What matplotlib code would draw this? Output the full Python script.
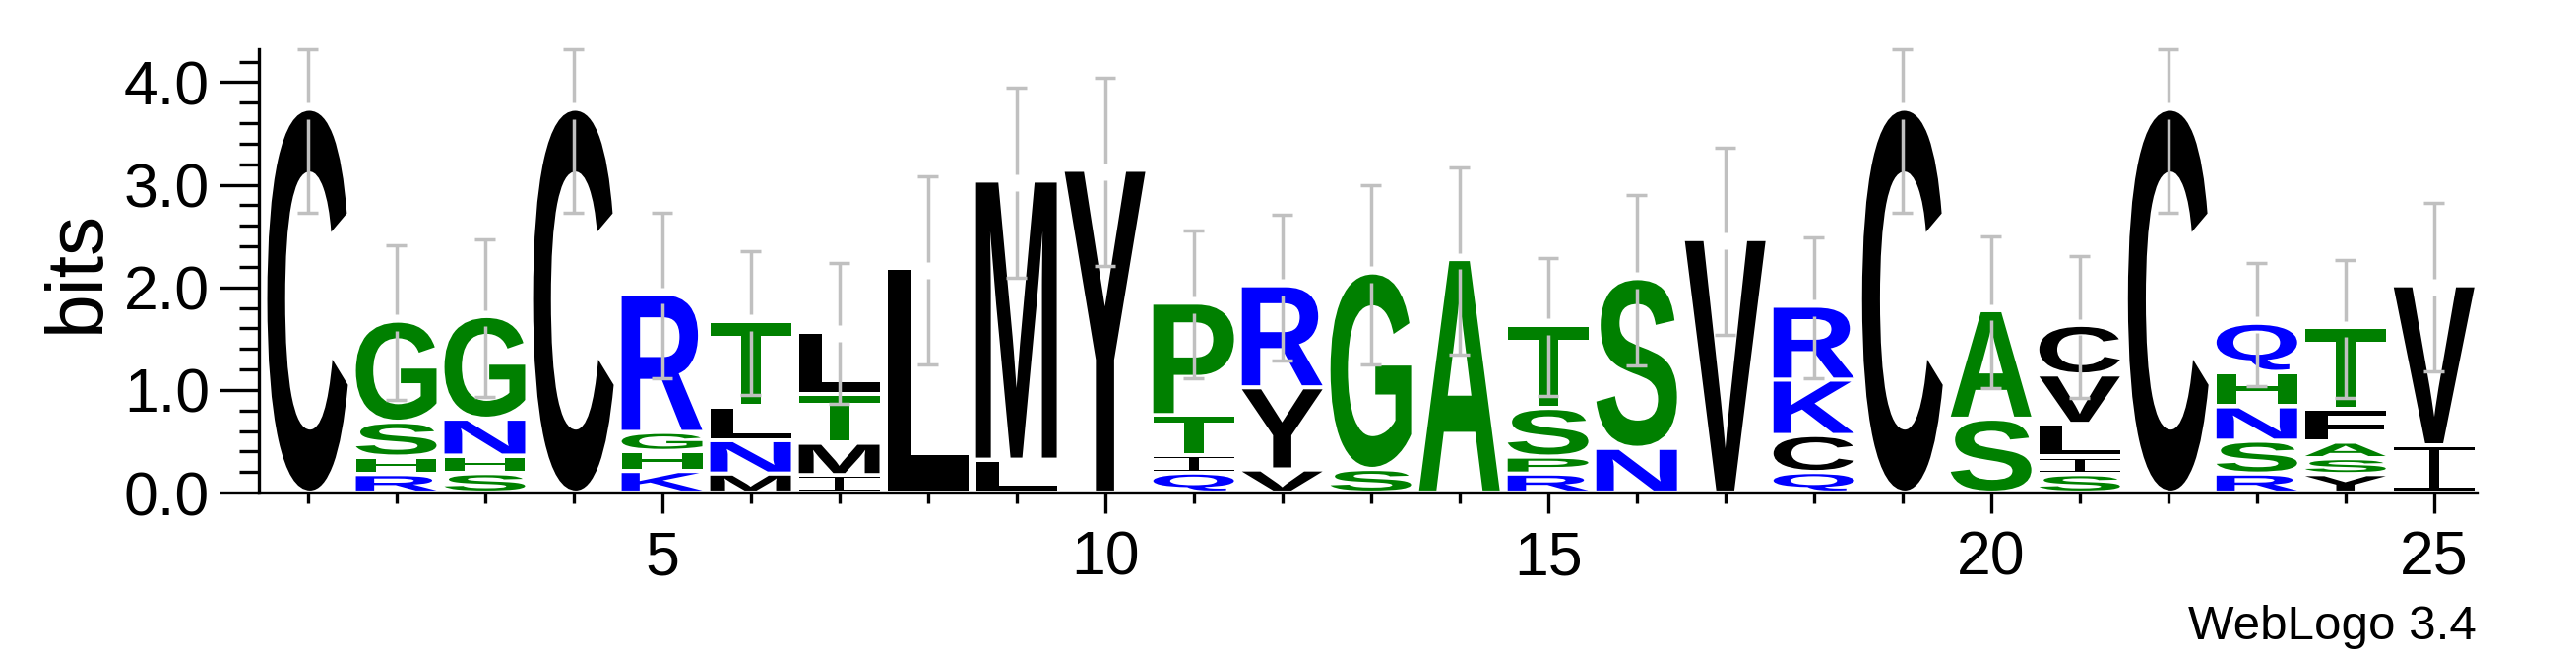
import matplotlib

matplotlib.use("Agg")

import matplotlib.pyplot as plt
import numpy as np
from matplotlib.font_manager import FontProperties
from matplotlib.patches import PathPatch
from matplotlib.path import Path
from matplotlib.textpath import TextPath

# sequence logo data: letters from bottom to top, heights in bits
positions = list(range(1, 26))

stack_letters = [
    "C", "RHSG", "SHNG", "C", "KHGR",
    "MNLT", "IMTL", "L", "LM", "Y",
    "QITP", "VYR", "SG", "A", "RPST",
    "NS", "V", "QCKR", "C", "SA",
    "SILVC", "C", "RSNHQ", "YSAFT", "IV",
]

stack_heights = [
    [3.72],
    [0.18, 0.17, 0.34, 0.965],
    [0.19, 0.17, 0.36, 0.98],
    [3.72],
    [0.21, 0.195, 0.185, 1.33],
    [0.185, 0.325, 0.33, 0.815],
    [0.17, 0.315, 0.475, 0.59],
    [2.165],
    [0.32, 2.70],
    [3.125],
    [0.195, 0.17, 0.39, 1.075],
    [0.225, 0.80, 0.975],
    [0.23, 1.895],
    [2.255],
    [0.185, 0.165, 0.475, 0.79],
    [0.435, 1.635],
    [2.45],
    [0.20, 0.36, 0.54, 0.70],
    [3.72],
    [0.72, 1.037],
    [0.18, 0.17, 0.32, 0.48, 0.464],
    [3.72],
    [0.185, 0.32, 0.335, 0.335, 0.459],
    [0.18, 0.155, 0.16, 0.32, 0.778],
    [0.46, 1.54],
]

error_sizes = [
    0.99, 0.75, 0.77, 0.99, 0.81,
    0.70, 0.69, 0.92, 0.93, 0.92,
    0.72, 0.71, 0.875, 0.915, 0.67,
    0.83, 0.91, 0.69, 0.99, 0.74,
    0.69, 0.99, 0.60, 0.67, 0.82,
]

labelled_positions = [5, 10, 15, 20, 25]
y_tick_values = [0.0, 1.0, 2.0, 3.0, 4.0]
y_max = 4.32

letter_colors = {}
for ch in "CLMYVIF":
    letter_colors[ch] = "black"
for ch in "GSTHAP":
    letter_colors[ch] = "#008000"
for ch in "RNKQ":
    letter_colors[ch] = "#0000ff"

LETTER_FONT = FontProperties(family="Liberation Sans", weight="bold")
LABEL_FONT = "Liberation Sans"
LETTER_WIDTH = 0.91
LETTER_GAP = 0.02
ERR_COLOR = "#c0c0c0"


def serif_i_path():
    bar = 0.07
    stem = 0.12
    rects = [
        (0.0, 0.0, 1.0, bar),
        (0.0, 1.0 - bar, 1.0, 1.0),
        (0.5 - stem / 2, bar, 0.5 + stem / 2, 1.0 - bar),
    ]
    verts = []
    codes = []
    for x0, y0, x1, y1 in rects:
        verts += [(x0, y0), (x1, y0), (x1, y1), (x0, y1), (x0, y0)]
        codes += [Path.MOVETO, Path.LINETO, Path.LINETO, Path.LINETO, Path.CLOSEPOLY]
    return np.array(verts), codes


def unit_glyph(letter):
    if letter == "I":
        return serif_i_path()
    tp = TextPath((0, 0), letter, size=1, prop=LETTER_FONT)
    ext = tp.get_extents()
    verts = tp.vertices.copy()
    verts[:, 0] = (verts[:, 0] - ext.x0) / ext.width
    verts[:, 1] = (verts[:, 1] - ext.y0) / ext.height
    return verts, tp.codes


def draw_letter(ax, letter, xc, y0, y1):
    verts, codes = unit_glyph(letter)
    out = verts.copy()
    out[:, 0] = xc - LETTER_WIDTH / 2 + verts[:, 0] * LETTER_WIDTH
    out[:, 1] = y0 + verts[:, 1] * (y1 - y0)
    patch = PathPatch(Path(out, codes), facecolor=letter_colors[letter],
                      edgecolor="none", lw=0, zorder=2)
    ax.add_patch(patch)


def draw_error_bar(ax, xc, top, err):
    lo = top - err
    hi = min(top + err, y_max)
    kw = dict(color=ERR_COLOR, lw=2.5, solid_capstyle="butt", zorder=3, clip_on=False)
    ax.plot([xc, xc], [lo, top - 0.08], **kw)
    ax.plot([xc, xc], [top + 0.08, hi], **kw)
    for yy in (lo, hi):
        ax.plot([xc - 0.115, xc + 0.115], [yy, yy], **kw)


def main():
    fig = plt.figure(figsize=(26.17, 6.67), dpi=100)
    ax = fig.add_axes([263 / 2617, 1 - 500 / 667, 2253 / 2617, 450 / 667])

    for pos, letters, heights, err in zip(positions, stack_letters, stack_heights, error_sizes):
        y = 0.0
        n = len(letters)
        for i, (ch, h) in enumerate(zip(letters, heights)):
            bottom = y + LETTER_GAP
            top = y + h - (LETTER_GAP if i < n - 1 else 0.0)
            draw_letter(ax, ch, pos, bottom, top)
            y += h
        draw_error_bar(ax, pos, y, err)

    ax.set_xlim(0.45, 25.48)
    ax.set_ylim(0, y_max)

    for side in ("top", "right"):
        ax.spines[side].set_visible(False)
    for side in ("left", "bottom"):
        ax.spines[side].set_linewidth(2.4)
        ax.spines[side].set_zorder(4)

    ax.set_xticks(labelled_positions)
    ax.set_xticklabels([str(p) for p in labelled_positions])
    ax.set_xticks([p for p in positions if p not in labelled_positions], minor=True)

    ax.set_yticks(y_tick_values)
    ax.set_yticklabels([f"{v:.1f}" for v in y_tick_values])
    ax.set_yticks(np.arange(0.2, 4.3, 0.2), minor=True)

    ax.tick_params(axis="x", which="major", length=15, width=2.4, direction="out", pad=12)
    ax.tick_params(axis="x", which="minor", length=7.6, width=2.4, direction="out")
    ax.tick_params(axis="y", which="major", length=29, width=2.4, direction="out", pad=7)
    ax.tick_params(axis="y", which="minor", length=14.5, width=2.4, direction="out")

    for label in ax.get_xticklabels() + ax.get_yticklabels():
        label.set_fontfamily(LABEL_FONT)
        label.set_fontsize(45)

    fig.text(100 / 2617, 1 - 275.5 / 667, "bits", rotation=90, rotation_mode="anchor",
             ha="center", va="baseline", fontsize=58, family=LABEL_FONT)
    fig.text(2516 / 2617, 1 - 649 / 667, "WebLogo 3.4", ha="right", va="baseline",
             fontsize=35.5, family=LABEL_FONT)

    fig.savefig("out.png", dpi=100)
    plt.close(fig)


if __name__ == "__main__":
    main()
